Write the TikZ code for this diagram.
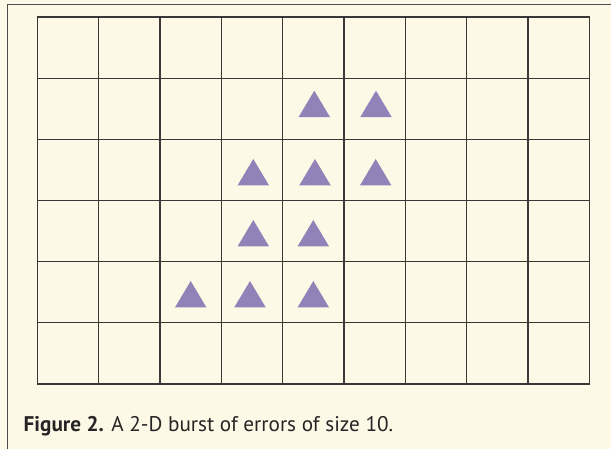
\documentclass[tikz,border=0pt]{standalone}
\usepackage{fontspec}
\setmainfont{PT Sans}
\definecolor{bgcol}{HTML}{FEF8E7}
\definecolor{linecol}{HTML}{3A3836}
\definecolor{tricol}{HTML}{9382B8}
\definecolor{txtcol}{HTML}{262424}
\tikzset{
  gridline/.style={draw=linecol, line width=1.25pt, line cap=rect},
  framel/.style={draw=linecol!90, line width=1.3pt},
  tri/.style={fill=tricol},
  captext/.style={anchor=base west, inner sep=0pt, text=txtcol, font=\fontsize{21.2}{25}\selectfont}
}
\begin{document}
\begin{tikzpicture}[x=1pt,y=-1pt]
\fill[bgcol] (0,0) rectangle (611,449);
\useasboundingbox (0,0) rectangle (611,449);
\draw[framel] (7.3,449) -- (7.3,4.7) -- (611,4.7);
\foreach \i in {0,...,9} \draw[gridline] ({37.5+\i*61.31},17) -- ({37.5+\i*61.31},384);
\foreach \j in {0,...,6} \draw[gridline] (37.5,{17+\j*61.17}) -- (589.3,{17+\j*61.17});
\foreach \ax/\ay in {314.3/90.7, 376/90.7, 253.3/159, 315/159, 375.7/159, 253.3/220, 313.3/220, 190.7/281, 250/281, 313.3/281}
  \fill[tri] (\ax,\ay) -- ++(-15.8,26.5) -- ++(31.6,0) -- cycle;
\node[captext] (cap) at (23.5,431) {\textbf{Figure 2.} A 2-D burst of errors of size 10.};
\end{tikzpicture}
\end{document}
